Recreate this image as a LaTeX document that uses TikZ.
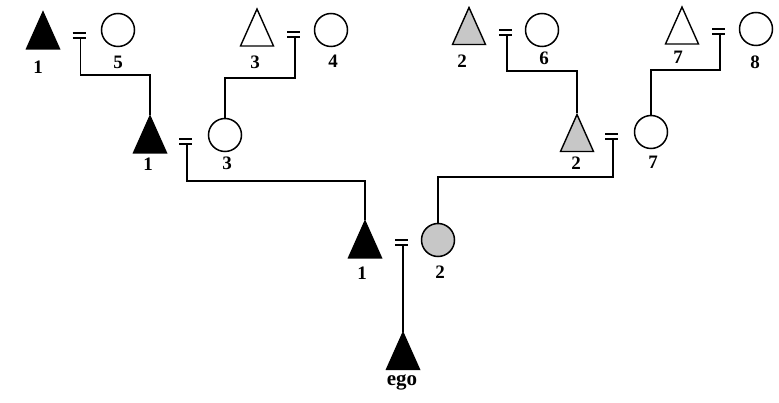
\documentclass[tikz,border=0pt]{standalone}
\usepackage{fontspec}
\setmainfont{Liberation Serif}
\definecolor{shade}{gray}{0.78}
\begin{document}
\begin{tikzpicture}[x=1pt,y=-1pt,
  person/.style={inner sep=0pt, outer sep=0pt},
  tri/.style={person, minimum width=35pt, minimum height=39pt,
    path picture={\draw[line width=1.4pt, fill=#1]
      ([yshift=-1pt]path picture bounding box.north) --
      ([shift={(1pt,1pt)}]path picture bounding box.south west) --
      ([shift={(-1pt,1pt)}]path picture bounding box.south east) -- cycle;}},
  circ/.style={person, circle, draw, fill=#1, minimum size=33pt, line width=1.5pt},
  lab/.style={font=\bfseries\fontsize{19}{19}\selectfont, inner sep=0pt},
  conn/.style={line width=1.5pt},
  bar/.style={line width=1.4pt},
  marriage/.pic={\draw[bar] (-8,0) -- (5,0); \draw[bar] (-8,-5) -- (5,-5);}
]
\useasboundingbox (0,0) rectangle (779,403);

% generation 1
\node[tri=black] (tA) at (43,30.5) {};
\node[circ=white] (c5) at (118,30) {};
\node[tri=white] (tB) at (257,27.5) {};
\node[circ=white] (c4) at (331,30) {};
\node[tri=shade] (tD) at (469,26) {};
\node[circ=white] (c6) at (542,30) {};
\node[tri=white] (tE) at (682,25.5) {};
\node[circ=white] (c8) at (756,29) {};

% generation 2
\node[tri=black] (tC) at (150,134.5) {};
\node[circ=white] (c3) at (225,135) {};
\node[tri=shade] (tF) at (577,133) {};
\node[circ=white] (c7) at (651,132) {};

% generation 3
\node[tri=black] (tG) at (365,239.5) {};
\node[circ=shade] (c2) at (438,240) {};

% ego
\node[tri=black] (ego) at (403,351) {};

% labels
\node[lab] (lA) at (38,67) {1};
\node[lab] (l5) at (118,62) {5};
\node[lab] (lB) at (255,62) {3};
\node[lab] (l4) at (333,61) {4};
\node[lab] (lD) at (462,61) {2};
\node[lab] (l6) at (544,58) {6};
\node[lab] (lE) at (678,57) {7};
\node[lab] (l8) at (755,62) {8};
\node[lab] (lC) at (148,164) {1};
\node[lab] (l3) at (227,163) {3};
\node[lab] (lF) at (576,163) {2};
\node[lab] (l7) at (653,162) {7};
\node[lab] (lG) at (362,273) {1};
\node[lab] (l2) at (440,272) {2};
\node[lab, font=\bfseries\fontsize{21}{21}\selectfont] (lego) at (402,382) {ego};

% marriage signs
\coordinate (mA) at (80.5,38);
\coordinate (mB) at (295,37);
\coordinate (mD) at (507,35);
\coordinate (mE) at (720,34);
\coordinate (mC) at (187,144);
\coordinate (mF) at (613,139);
\coordinate (mG) at (403,245);
\foreach \m in {mA,mB,mC,mD,mE,mF,mG} {\pic at (\m) {marriage};}

% descent lines
\draw[conn] (mA) -- ++(0,37) -| (tC.north);
\draw[conn] (mB) -- ++(0,41) -| (c3.north);
\draw[conn] (mD) -- ++(0,36) -| (tF.north);
\draw[conn] (mE) -- ++(0,36) -| (c7.north);
\draw[conn] (mC) -- ++(0,37) -| (tG.north);
\draw[conn] (mF) -- ++(0,38) -| (c2.north);
\draw[conn] (mG) -- (ego.north);
\end{tikzpicture}
\end{document}
